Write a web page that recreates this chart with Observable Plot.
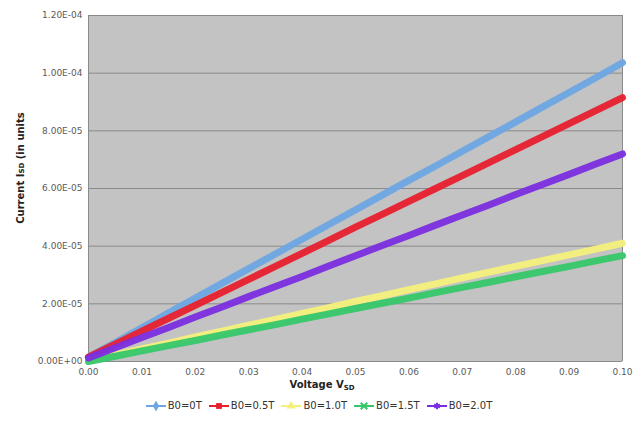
<!DOCTYPE html>
<html>
<head>
<meta charset="utf-8">
<script src="https://cdn.jsdelivr.net/npm/d3@7"></script>
<script src="https://cdn.jsdelivr.net/npm/@observablehq/plot@0.6"></script>
<style>
  html, body { margin: 0; padding: 0; background: #fff; }
  body { width: 634px; height: 431px; overflow: hidden; font-family: "DejaVu Sans", Verdana, sans-serif; }
  #legend { display: flex; justify-content: center; align-items: center; gap: 7px; font-size: 10px; color: #333; margin-top: 5px; padding-left: 4px; }
  #legend .item { display: flex; align-items: center; gap: 2px; }
</style>
</head>
<body>
<div id="chart"></div>
<div id="legend"></div>
<script>
// Voltage V_SD sample positions
const voltage = [0, 0.005, 0.01, 0.015, 0.02, 0.025, 0.03, 0.035, 0.04, 0.045, 0.05,
                 0.055, 0.06, 0.065, 0.07, 0.075, 0.08, 0.085, 0.09, 0.095, 0.1];
// Current I_SD series
const b00 = [1.5e-6, 6.6e-6, 11.7e-6, 16.9e-6, 22.0e-6, 27.1e-6, 32.2e-6, 37.3e-6, 42.4e-6, 47.5e-6, 52.6e-6,
             57.7e-6, 62.8e-6, 67.8e-6, 72.9e-6, 78.0e-6, 83.1e-6, 88.2e-6, 93.3e-6, 98.4e-6, 103.6e-6];
const b05 = [1.5e-6, 6.0e-6, 10.5e-6, 15.0e-6, 19.5e-6, 24.0e-6, 28.5e-6, 33.0e-6, 37.5e-6, 42.0e-6, 46.6e-6,
             51.0e-6, 55.5e-6, 60.0e-6, 64.5e-6, 69.0e-6, 73.5e-6, 78.0e-6, 82.5e-6, 87.0e-6, 91.5e-6];
const b10 = [0.3e-6, 2.3e-6, 4.4e-6, 6.4e-6, 8.5e-6, 10.5e-6, 12.6e-6, 14.6e-6, 16.7e-6, 18.7e-6, 20.8e-6,
             22.8e-6, 24.9e-6, 26.9e-6, 29.0e-6, 31.0e-6, 33.0e-6, 35.0e-6, 37.0e-6, 39.0e-6, 41.0e-6];
const b15 = [0.0e-6, 1.8e-6, 3.7e-6, 5.5e-6, 7.3e-6, 9.2e-6, 11.0e-6, 12.8e-6, 14.7e-6, 16.5e-6, 18.4e-6,
             20.2e-6, 22.0e-6, 23.9e-6, 25.7e-6, 27.5e-6, 29.4e-6, 31.2e-6, 33.0e-6, 34.9e-6, 36.7e-6];
const b20 = [1.2e-6, 4.8e-6, 8.3e-6, 11.8e-6, 15.4e-6, 18.9e-6, 22.5e-6, 26.0e-6, 29.5e-6, 33.1e-6, 36.7e-6,
             40.2e-6, 43.7e-6, 47.3e-6, 50.8e-6, 54.3e-6, 57.9e-6, 61.4e-6, 64.9e-6, 68.5e-6, 72.0e-6];
const seriesNames = ["B0=0T", "B0=0.5T", "B0=1.0T", "B0=1.5T", "B0=2.0T"];
const seriesValues = [b00, b05, b10, b15, b20];
const seriesColors = ["#6ea6e4", "#e8202e", "#f4f07c", "#36c76a", "#7b2ee0"];
const xTicks = [0, 0.01, 0.02, 0.03, 0.04, 0.05, 0.06, 0.07, 0.08, 0.09, 0.1];
const yTicks = [0, 2e-5, 4e-5, 6e-5, 8e-5, 1e-4, 1.2e-4];

const rows = [];
seriesNames.forEach((name, i) => {
  voltage.forEach((v, j) => rows.push({series: name, v, i: seriesValues[i][j]}));
});

const fmtY = d => {
  if (d === 0) return "0.00E+00";
  let s = d.toExponential(2).toUpperCase();
  return s.replace(/E([+-])(\d)$/, "E$10$2");
};

const chart = Plot.plot({
  width: 634,
  height: 395,
  marginLeft: 88,
  marginRight: 12,
  marginTop: 15,
  marginBottom: 34,
  style: {fontFamily: "DejaVu Sans, Verdana, sans-serif", fontSize: "9px", color: "#5a5a5a", background: "#fff"},
  x: {domain: [0, 0.1], label: null},
  y: {domain: [0, 1.2e-4], label: null},
  color: {domain: seriesNames, range: seriesColors},
  marks: [
    Plot.frame({fill: "#c3c3c3", stroke: null}),
    Plot.gridY(yTicks, {stroke: "#8a8a8a", strokeOpacity: 1, strokeWidth: 1}),
    Plot.ruleX([0], {stroke: "#8a8a8a"}),
    Plot.ruleX([0.1], {stroke: "#8a8a8a"}),
    Plot.line(rows, {x: "v", y: "i", z: "series", stroke: "series", strokeWidth: 7, strokeOpacity: 0.95}),
    Plot.axisX({ticks: xTicks, tickFormat: d3.format(".2f"), tickSize: 0, tickPadding: 7, label: null}),
    Plot.axisY({ticks: yTicks, tickFormat: fmtY, tickSize: 0, tickPadding: 6, label: null})
  ]
});
document.getElementById("chart").appendChild(chart);

// Axis titles
const svg = d3.select(chart);
const xt = svg.append("text").attr("x", 322).attr("y", 388).attr("text-anchor", "middle")
  .attr("font-weight", "bold").attr("font-size", "10px").attr("fill", "#222");
xt.append("tspan").text("Voltage V");
xt.append("tspan").text("SD").attr("font-size", "7px").attr("dy", "2");
const yt = svg.append("text").attr("transform", "translate(24,168) rotate(-90)").attr("text-anchor", "middle")
  .attr("font-weight", "bold").attr("font-size", "10px").attr("fill", "#222");
yt.append("tspan").text("Current I");
yt.append("tspan").text("SD").attr("font-size", "7px");
yt.append("tspan").text(" (in units");

// Legend
const legendSymbols = [d3.symbolDiamond, d3.symbolSquare, d3.symbolTriangle, d3.symbolTimes, d3.symbolAsterisk];
const legendFilled = [true, true, true, false, false];
const legend = d3.select("#legend");
seriesNames.forEach((name, i) => {
  const item = legend.append("div").attr("class", "item");
  const sw = item.append("svg").attr("width", 20).attr("height", 10);
  sw.append("line").attr("x1", 0).attr("x2", 20).attr("y1", 5).attr("y2", 5)
    .attr("stroke", seriesColors[i]).attr("stroke-width", 2);
  sw.append("path").attr("transform", "translate(10,5)")
    .attr("d", d3.symbol(legendSymbols[i], legendFilled[i] ? 34 : 30)())
    .attr("fill", legendFilled[i] ? seriesColors[i] : "none")
    .attr("stroke", seriesColors[i]).attr("stroke-width", legendFilled[i] ? 0 : 2);
  item.append("span").text(name);
});
</script>
</body>
</html>
